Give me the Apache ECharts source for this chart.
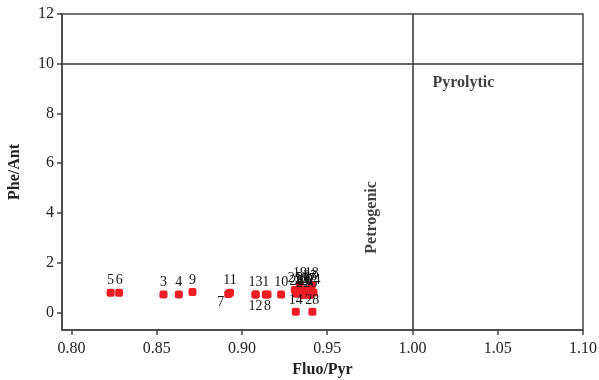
<!DOCTYPE html>
<html>
<head>
<meta charset="utf-8">
<script src="https://cdn.jsdelivr.net/npm/echarts@6/dist/echarts.min.js"></script>
<style>html,body{margin:0;padding:0;background:#fff;}#c{width:599px;height:380px;}</style>
</head>
<body>
<div id="c"></div>
<script>
// ---- data ----
const sampleIds = ['1','2','3','4','5','6','7','8','9','10','11','12','13','14','15','16','17','18','19','20','21','22','23','24','25','26','27','28'];
const fluoPyr   = [0.914,0.933,0.854,0.863,0.823,0.828,0.892,0.915,0.871,0.923,0.893,0.908,0.908,0.9316,0.935,0.937,0.939,0.941,0.934,0.932,0.936,0.938,0.940,0.942,0.931,0.940,0.936,0.9413];
const pheAnt    = [0.72,0.80,0.72,0.72,0.79,0.79,0.74,0.72,0.82,0.72,0.79,0.72,0.72,0.02,0.85,0.80,0.85,1.10,1.10,0.75,0.90,0.75,0.95,0.80,0.90,0.70,0.70,0.02];
const xTicks = [0.80,0.85,0.90,0.95,1.00,1.05,1.10];
const yTicks = [0,2,4,6,8,10,12];
const thresholdX = 1.00;
const thresholdY = 10;
const regionNames = ['Pyrolytic','Petrogenic'];
const regionX = [1.0117,0.9759];
const regionY = [9.23,3.82];

const serif = '"Liberation Serif","Times New Roman",serif';
const labelPlacement = {
  '7': {position:'left', distance:0, offset:[0,8]},
  '8': {position:'bottom', distance:1},
  '12': {position:'bottom', distance:1}
};

const points = sampleIds.map((id,i)=>{
  const p = {value:[fluoPyr[i], pheAnt[i]], name:id};
  if (labelPlacement[id]) p.label = labelPlacement[id];
  return p;
});

const regions = regionNames.map((n,i)=>({
  value:[regionX[i], regionY[i]], name:n,
  label: i===0 ? {position:'right', distance:0} : {position:'inside', rotate:90}
}));

const chart = echarts.init(document.getElementById('c'));
chart.setOption({
  animation:false,
  grid:{left:62,right:16,top:14,bottom:50,outerBoundsMode:'none',containLabel:false,show:true,borderColor:'#444',borderWidth:1.5,backgroundColor:'transparent'},
  xAxis:{
    type:'value', min:0.7945, max:1.10,
    name:'Fluo/Pyr', nameLocation:'middle', nameGap:32,
    nameTextStyle:{fontFamily:serif,fontWeight:'bold',fontSize:16,color:'#222'},
    axisLine:{show:true,onZero:false,lineStyle:{color:'#444',width:1.5}},
    axisTick:{show:true,length:5,customValues:xTicks,lineStyle:{color:'#444',width:1.5}},
    axisLabel:{customValues:xTicks,fontFamily:serif,fontSize:16,color:'#222',margin:11,
      formatter:v=>v.toFixed(2)},
    splitLine:{show:false}
  },
  yAxis:{
    type:'value', min:-0.71, max:12,
    name:'Phe/Ant', nameLocation:'middle', nameGap:39,
    nameTextStyle:{fontFamily:serif,fontWeight:'bold',fontSize:16,color:'#222'},
    axisLine:{show:true,onZero:false,lineStyle:{color:'#444',width:1.5}},
    axisTick:{show:true,length:5,customValues:yTicks,lineStyle:{color:'#444',width:1.5}},
    axisLabel:{customValues:yTicks,fontFamily:serif,fontSize:16,color:'#222',margin:8},
    splitLine:{show:false}
  },
  series:[
    {
      type:'scatter',
      symbol:'roundRect', symbolSize:8,
      itemStyle:{color:'#ee1c24',opacity:1},
      data:points,
      label:{show:true,position:'top',distance:1,formatter:'{b}',fontFamily:serif,fontSize:14,color:'#111'},
      markLine:{
        silent:true, symbol:['none','none'],
        label:{show:false},
        lineStyle:{color:'#333',width:1.5,type:'solid'},
        data:[{xAxis:thresholdX},{yAxis:thresholdY}]
      },
      z:3
    },
    {
      type:'scatter', symbolSize:0, silent:true,
      data:regions,
      label:{show:true,formatter:'{b}',fontFamily:serif,fontWeight:'bold',fontSize:16,color:'#111'}
    }
  ]
});
</script>
</body>
</html>
